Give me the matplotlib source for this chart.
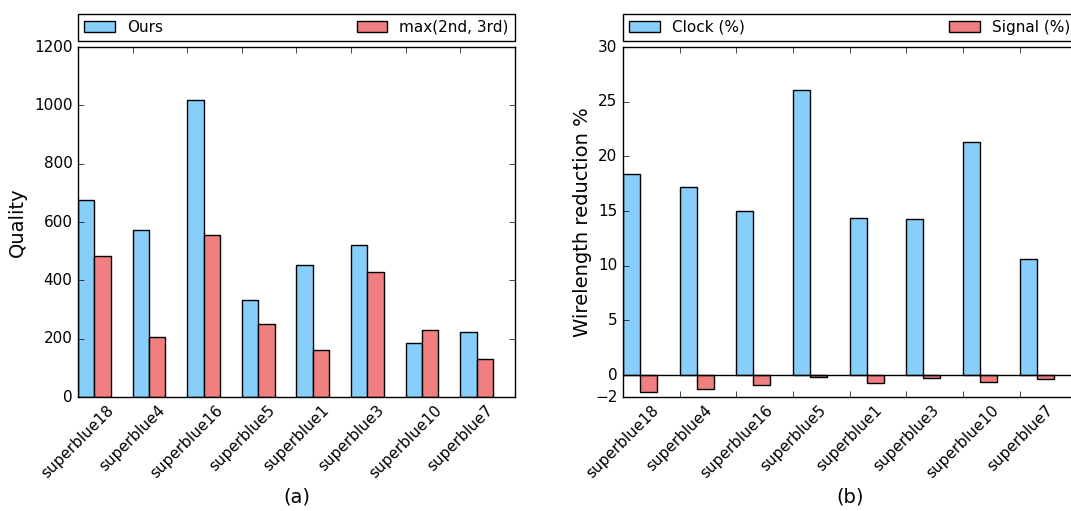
import matplotlib
matplotlib.use("Agg")
import matplotlib.pyplot as plt
import numpy as np

plt.style.use('classic')

benchmarks = ["superblue18", "superblue4", "superblue16", "superblue5",
              "superblue1", "superblue3", "superblue10", "superblue7"]

# (a) quality
quality_ours = [675, 572, 1020, 332, 452, 520, 184, 224]
quality_other = [483, 207, 557, 249, 163, 427, 231, 129]

# (b) wirelength reduction
clock_red = [18.43, 17.22, 14.97, 26.08, 14.39, 14.24, 21.35, 10.63]
signal_red = [-1.55, -1.28, -0.93, -0.18, -0.72, -0.27, -0.63, -0.36]

blue = '#87CEFA'
red = '#F08080'
width = 0.3

fig = plt.figure(figsize=(10.71, 5.11), dpi=100, facecolor='white')
ax1 = fig.add_axes([0.0728, 0.223, 0.408, 0.685])
# right panel runs a bit past the figure edge, as in the original
ax2 = fig.add_axes([0.5817, 0.223, 0.4235, 0.685])

ind = np.arange(len(benchmarks))


def draw(ax, a, b, labels, ylabel, xlabel, ylim, yticks):
    ax.set_facecolor('white')
    ax.bar(ind, a, width, align='edge', color=blue, edgecolor='black', linewidth=1, label=labels[0])
    ax.bar(ind + width, b, width, align='edge', color=red, edgecolor='black', linewidth=1, label=labels[1])
    ax.set_xlim(0, len(benchmarks))
    ax.set_ylim(*ylim)
    ax.set_yticks(yticks)
    ax.set_xticks(ind)
    ax.set_xticklabels(benchmarks, rotation=45, fontsize=11)
    ax.tick_params(axis='y', labelsize=11)
    ax.set_ylabel(ylabel, fontsize=14)
    ax.set_xlabel(xlabel, fontsize=14)
    ax.legend(loc='lower left', bbox_to_anchor=(0, 1.017, 1, 0.085), mode='expand',
              ncol=2, borderaxespad=0, fontsize=11, fancybox=False, edgecolor='black')


draw(ax1, quality_ours, quality_other, ["Ours", "max(2nd, 3rd)"], "Quality", "(a)",
     (0, 1200), [0, 200, 400, 600, 800, 1000, 1200])
draw(ax2, clock_red, signal_red, ["Clock (%)", "Signal (%)"], "Wirelength reduction %", "(b)",
     (-2, 30), [-2, 0, 5, 10, 15, 20, 25, 30])
ax2.axhline(0, color='black', linewidth=1)
ax2.yaxis.labelpad = 2

fig.savefig("out.png", dpi=100, facecolor='white')
